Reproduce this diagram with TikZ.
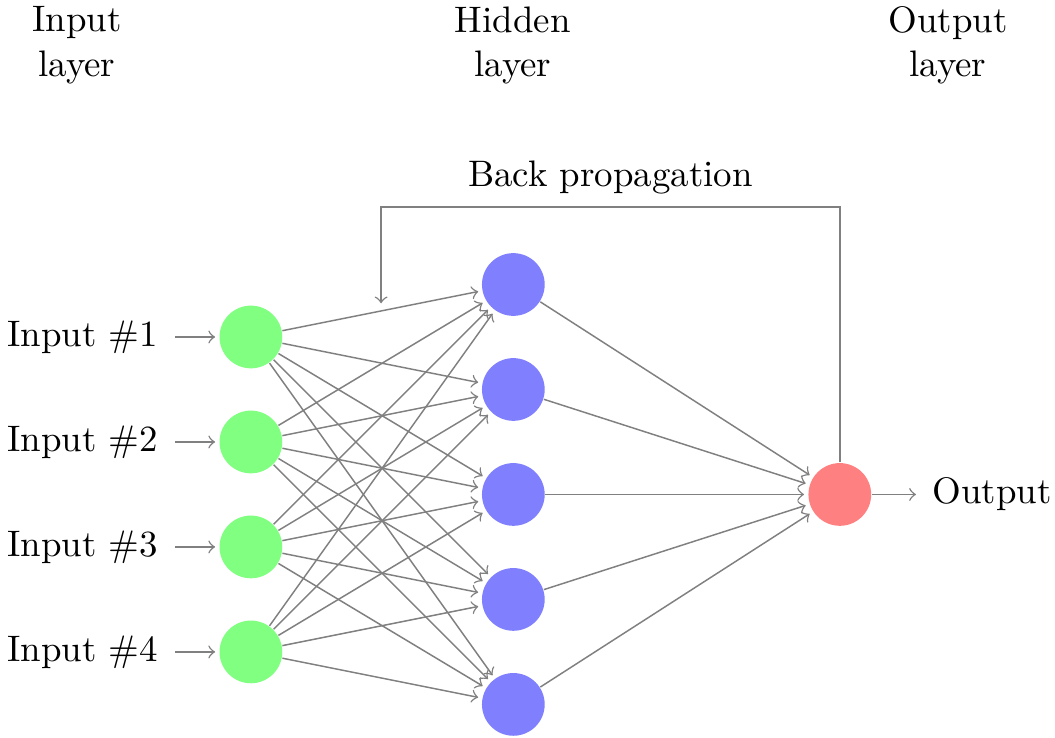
\documentclass[tikz,border=0pt]{standalone}
\usetikzlibrary{positioning}
\begin{document}
\begin{tikzpicture}[shorten >=1pt,->,draw=black!50]
  \useasboundingbox (-2.39,-4.82) rectangle (7.66,2.21);
  \tikzset{
    every pin edge/.style={<-,shorten <=1pt,draw=black!50},
    neuron/.style={circle,fill=black!25,minimum size=17pt,inner sep=0pt},
    input neuron/.style={neuron,fill=green!50},
    output neuron/.style={neuron,fill=red!50},
    hidden neuron/.style={neuron,fill=blue!50},
    annot/.style={text width=4em,text centered}
  }
  % input layer
  \foreach \y in {1,...,4}
    \node[input neuron,pin=left:Input \#\y] (I-\y) at (0,-\y) {};
  % hidden layer
  \foreach \y in {1,...,5}
    \node[hidden neuron] (H-\y) at (2.5,-\y+0.5) {};
  % output layer
  \node[output neuron,pin={[pin edge={->,shorten <=0pt,shorten >=1pt}]right:Output}] (O) at (5.61,-2.5) {};
  % connections
  \foreach \s in {1,...,4}
    \foreach \d in {1,...,5}
      \path (I-\s) edge (H-\d);
  \foreach \s in {1,...,5}
    \path (H-\s) edge (O);
  % feedback path
  \coordinate (bp) at (1.24,-0.714);
  \draw (O.north) |- (1.24,0.238) node[pos=0.75,above,text=black] {Back propagation} -- (bp);
  % layer captions
  \node[annot] (hl) at (2.495,1.78) {Hidden layer};
  \node[annot] (il) at (-1.657,1.78) {Input layer};
  \node[annot] (ol) at (6.64,1.78) {Output layer};
\end{tikzpicture}
\end{document}
